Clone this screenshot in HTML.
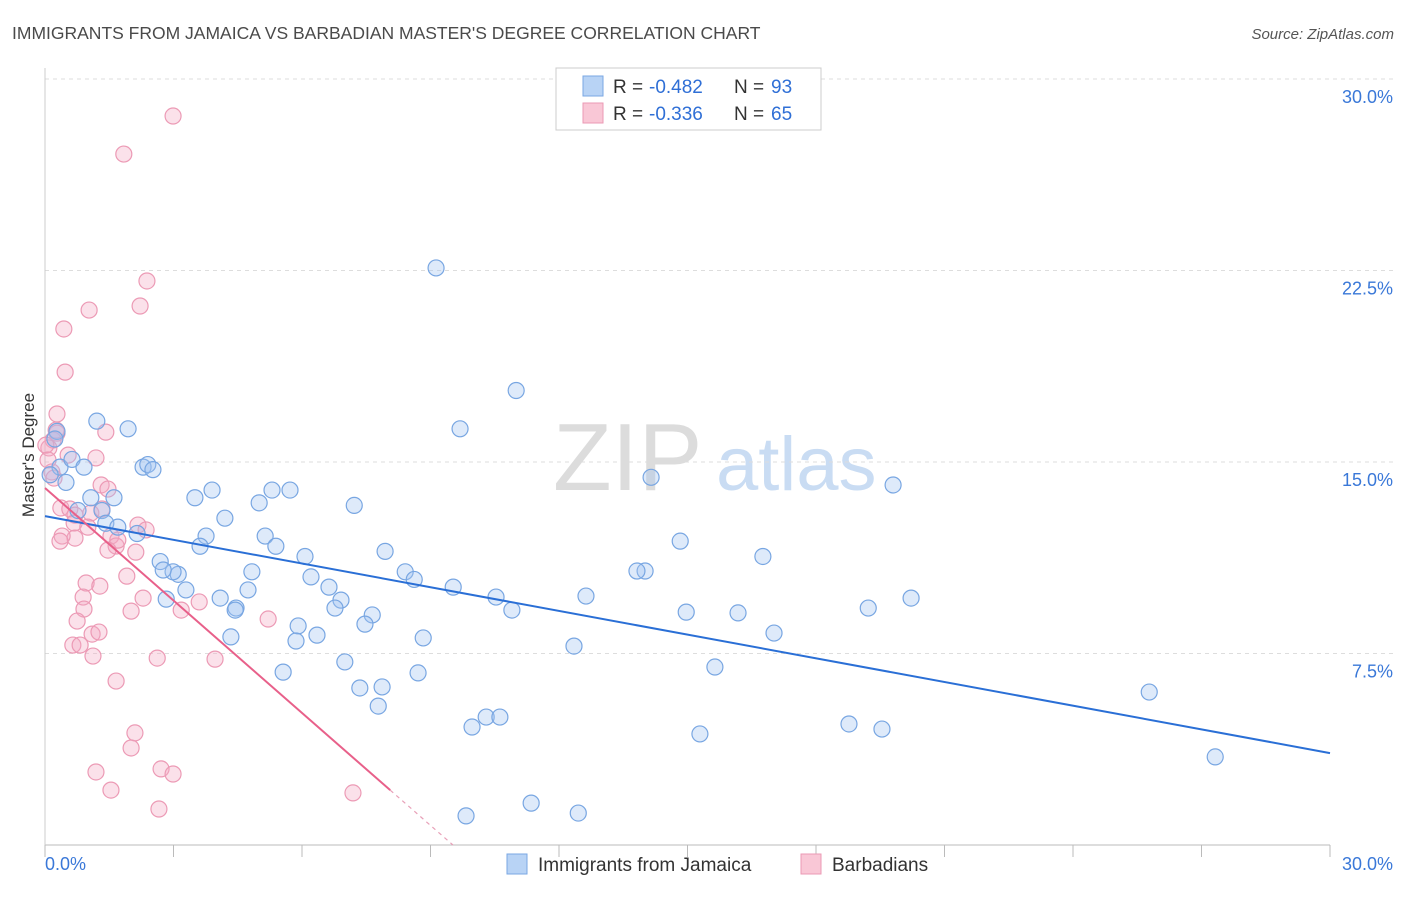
<!DOCTYPE html>
<html><head><meta charset="utf-8"><style>
body{margin:0;background:#fff;font-family:"Liberation Sans",sans-serif;}
svg text{font-family:"Liberation Sans",sans-serif;}
</style></head><body>
<svg id="chart" width="1406" height="892" viewBox="0 0 1406 892" xmlns="http://www.w3.org/2000/svg">
<text x="12" y="39" font-size="17.5" fill="#4a4a4a">IMMIGRANTS FROM JAMAICA VS BARBADIAN MASTER'S DEGREE CORRELATION CHART</text>
<text x="1394" y="39" font-size="15" fill="#555" text-anchor="end" font-style="italic">Source: ZipAtlas.com</text>
<g>
<text x="553" y="490" font-size="96" fill="#dcdcdc" font-family="Liberation Serif">ZIP</text>
<text x="716" y="490" font-size="76" fill="#c9dcf3">atlas</text>
</g>
<g id="grid"></g>
<g id="axes"></g>
<g id="pts"></g>
<g id="trends"></g>
<text transform="translate(34,455) rotate(-90)" font-size="17" fill="#333" text-anchor="middle">Master's Degree</text>
<g>
<rect x="556" y="68" width="265" height="62" fill="#fff" stroke="#ccc"/>
<rect x="583" y="76" width="20" height="20" fill="#b8d3f5" stroke="#7aa7e3"/>
<rect x="583" y="103" width="20" height="20" fill="#f9c7d6" stroke="#eb9ab4"/>
<text x="613" y="93" font-size="19" fill="#333">R =</text>
<text x="649" y="93" font-size="19" fill="#2f6fd6">-0.482</text>
<text x="734" y="93" font-size="19" fill="#333">N =</text>
<text x="771" y="93" font-size="19" fill="#2f6fd6">93</text>
<text x="613" y="120" font-size="19" fill="#333">R =</text>
<text x="649" y="120" font-size="19" fill="#2f6fd6">-0.336</text>
<text x="734" y="120" font-size="19" fill="#333">N =</text>
<text x="771" y="120" font-size="19" fill="#2f6fd6">65</text>
</g>
<g>
<rect x="507" y="854" width="20" height="20" fill="#b8d3f5" stroke="#7aa7e3"/>
<text x="538" y="871" font-size="19" fill="#333">Immigrants from Jamaica</text>
<rect x="801" y="854" width="20" height="20" fill="#f9c7d6" stroke="#eb9ab4"/>
<text x="832" y="871" font-size="19" fill="#333">Barbadians</text>
</g>
</svg>
<script>
const yTicks=[7.5,15,22.5,30];
const yTickLabels=["7.5%","15.0%","22.5%","30.0%"];
const xTickValues=[0,3,6,9,12,15,18,21,24,27,30];
const xEndLabels=["0.0%","30.0%"];
const jamaicaX=[9.13,11.0,9.69,14.15,19.8,1.21,1.94,0.28,0.23,0.35,0.63,0.91,2.29,2.40,2.52,0.49,1.07,1.61,3.50,3.90,5.30,5.72,7.22,1.33,0.77,1.42,2.15,4.20,5.00,3.76,3.62,5.14,5.39,14.83,7.94,16.76,6.07,2.69,3.11,2.99,4.83,6.21,8.41,8.62,9.53,6.63,12.63,10.53,3.29,2.83,4.09,4.74,4.46,6.91,6.77,10.9,14.97,16.18,19.22,20.22,4.44,7.64,5.91,7.47,6.35,5.86,4.34,8.83,17.02,12.35,5.56,7.00,8.71,15.64,7.35,7.87,7.78,25.78,9.97,10.30,10.62,15.29,18.77,19.54,27.32,11.35,9.83,12.45,14.01,13.82,0.12,1.70,2.76];
const jamaicaY=[22.6,17.8,16.3,14.4,14.1,16.6,16.3,16.2,15.9,14.8,15.1,14.8,14.8,14.9,14.7,14.2,13.6,13.6,13.6,13.9,13.9,13.9,13.3,13.1,13.1,12.6,12.2,12.8,13.4,12.1,11.7,12.1,11.7,11.9,11.5,11.3,11.3,11.1,10.6,10.7,10.7,10.5,10.7,10.4,10.1,10.1,9.75,9.71,9.99,9.63,9.67,9.99,9.28,9.59,9.28,9.20,9.12,9.09,9.28,9.67,9.20,9.01,8.58,8.65,8.22,7.99,8.15,8.11,8.30,7.79,6.77,7.17,6.74,6.97,6.15,6.19,5.44,5.99,4.62,5.01,5.01,4.35,4.74,4.54,3.45,1.64,1.14,1.25,10.73,10.73,14.5,12.45,10.77];
const barbadianX=[2.99,1.84,2.38,2.22,1.03,0.44,0.47,0.28,0.28,1.42,0.19,0.09,0.54,1.19,0.16,0.21,1.31,1.47,0.37,0.58,0.70,1.07,0.68,1.0,2.17,1.54,0.70,0.40,0.35,1.66,1.47,2.12,1.91,0.96,1.28,0.89,2.29,0.91,2.01,3.60,3.18,0.75,5.21,1.10,1.26,0.65,0.82,1.12,2.62,3.97,1.66,2.10,2.01,1.19,2.71,2.99,1.54,2.66,7.19,0.02,1.70,1.33,2.36,0.26,0.07];
const barbadianY=[28.55,27.06,22.09,21.11,20.95,20.21,18.52,16.88,16.13,16.17,15.86,15.55,15.27,15.16,14.61,14.37,14.1,13.94,13.2,13.16,12.92,13.0,12.61,12.45,12.53,12.1,12.02,12.1,11.9,11.71,11.55,11.47,10.53,10.26,10.14,9.71,9.67,9.24,9.16,9.52,9.2,8.77,8.85,8.26,8.34,7.83,7.83,7.40,7.32,7.28,6.42,4.39,3.80,2.86,2.98,2.78,2.15,1.41,2.04,15.66,11.94,13.16,12.34,16.25,15.08];
const jamaicaTrend=[12.88,3.60];
const barbadianTrend=[13.98,-1.468];
const barbadianSolidEnd=[8.06];

const NS="http://www.w3.org/2000/svg";
const X0=45,X1=1330,Y0=845,Y30=79;
const sx=v=>X0+(X1-X0)*v/30;
const sy=v=>Y0-(Y0-Y30)*v/30;
function mk(tag,attrs,parent){const e=document.createElementNS(NS,tag);for(const k in attrs)e.setAttribute(k,attrs[k]);parent.appendChild(e);return e;}
const grid=document.getElementById('grid'),axes=document.getElementById('axes'),pts=document.getElementById('pts'),tr=document.getElementById('trends');
yTicks.forEach((t,i)=>{
 const l=mk('line',{x1:X0,x2:1394,y1:sy(t),y2:sy(t),stroke:'#ddd','stroke-dasharray':'4,4'},grid);
 
 
 const tx=mk('text',{x:1393,y:sy(t)+24,'font-size':18,fill:'#3a78d8','text-anchor':'end'},axes);
 tx.textContent=yTickLabels[i];
 
 
});
const ax=mk('line',{x1:X0,x2:X1,y1:Y0,y2:Y0,stroke:'#bbb'},axes);


const ay=mk('line',{x1:X0,x2:X0,y1:68,y2:Y0,stroke:'#ccc'},axes);


xTickValues.forEach(v=>{
 const t=mk('line',{x1:sx(v),x2:sx(v),y1:Y0,y2:Y0+12,stroke:'#bbb'},axes);
 
 
});
const xl0=mk('text',{x:45,y:870,'font-size':18,fill:'#3a78d8'},axes);xl0.textContent=xEndLabels[0];


const xl1=mk('text',{x:1393,y:870,'font-size':18,fill:'#3a78d8','text-anchor':'end'},axes);xl1.textContent=xEndLabels[1];


barbadianX.forEach((x,i)=>{
 const c=mk('circle',{cx:sx(x),cy:sy(barbadianY[i]),r:8,fill:'rgba(244,170,195,0.35)',stroke:'#ec9ab5','stroke-width':1.2},pts);
 
 
});
jamaicaX.forEach((x,i)=>{
 const c=mk('circle',{cx:sx(x),cy:sy(jamaicaY[i]),r:8,fill:'rgba(160,196,240,0.35)',stroke:'#78a6e2','stroke-width':1.2},pts);
 
 
});
const bl=mk('line',{x1:sx(0),y1:sy(jamaicaTrend[0]),x2:sx(30),y2:sy(jamaicaTrend[1]),stroke:'#2a6fd6','stroke-width':2},tr);


const pf=x=>barbadianTrend[0]+barbadianTrend[1]*x;
const xe=barbadianSolidEnd[0],xz=-barbadianTrend[0]/barbadianTrend[1];
const pl=mk('line',{x1:sx(0),y1:sy(pf(0)),x2:sx(xe),y2:sy(pf(xe)),stroke:'#e8608a','stroke-width':2},tr);


const pd=mk('line',{x1:sx(xe),y1:sy(pf(xe)),x2:sx(xz),y2:sy(0),stroke:'#e8a0b8','stroke-width':1.2,'stroke-dasharray':'4,4'},tr);


</script>
</body></html>
